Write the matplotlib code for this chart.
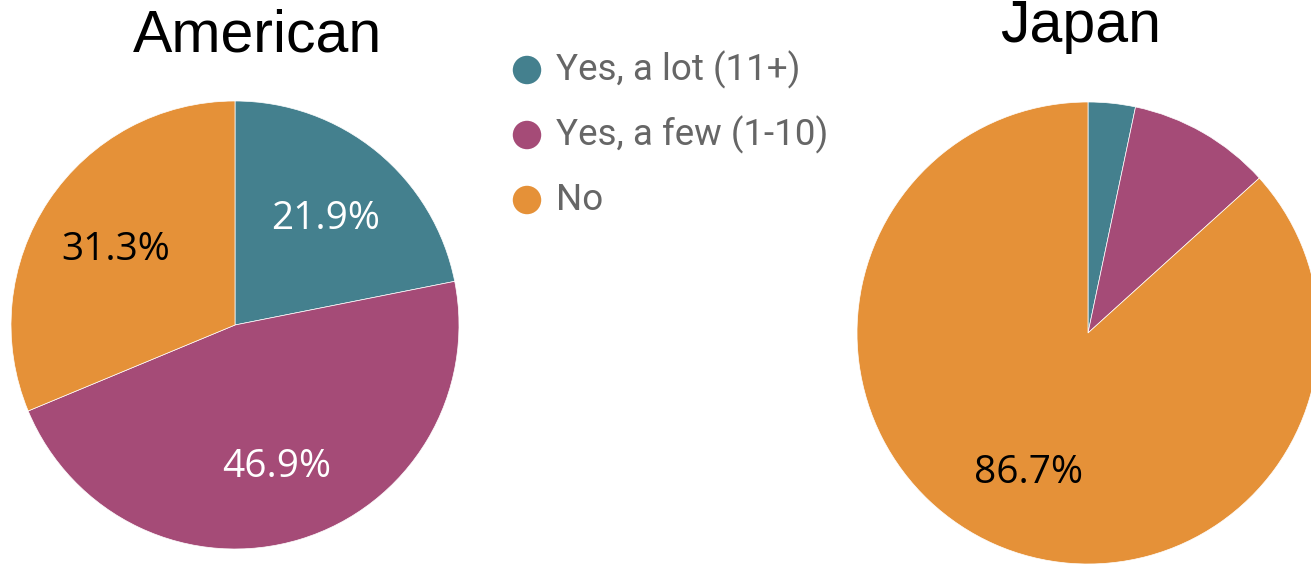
import matplotlib.pyplot as plt

# survey answers, share of respondents (%)
categories = ['Yes, a lot (11+)', 'Yes, a few (1-10)', 'No']
american = [21.9, 46.9, 31.3]
japan = [3.3, 10.0, 86.7]
colors = ['#44808e', '#a54b77', '#e59138']
label_colors = ['white', 'white', 'black']

W, H = 1311, 565

fig = plt.figure(figsize=(W / 100, H / 100), dpi=100)
ax = fig.add_axes([0, 0, 1, 1])


def draw_pie(values, center, radius, min_label=12):
    wedges, texts, autotexts = ax.pie(
        values, colors=colors, startangle=90, counterclock=False,
        center=center, radius=radius, pctdistance=0.64,
        autopct=lambda p: f'{p:.1f}%' if p >= min_label else '',
        wedgeprops=dict(linewidth=0.5, edgecolor='white'),
        textprops=dict(fontsize=28, family='Open Sans'),
        frame=True)
    for t, c in zip(autotexts, label_colors):
        t.set_color(c)
        t.set_va('center_baseline')
    return wedges


draw_pie(american, (235, H - 325), 224)
draw_pie(japan, (1088, H - 333), 231)

ax.set_xlim(0, W)
ax.set_ylim(0, H)
ax.set_aspect('equal')
ax.axis('off')

# titles
ax.text(258, H - 52, 'American', fontsize=42.5, family='Liberation Sans',
        ha='center', va='baseline', color='black')
ax.text(1081, H - 42, 'Japan', fontsize=42.5, family='Liberation Sans',
        ha='center', va='baseline', color='black')

# legend
for i, (name, col) in enumerate(zip(categories, colors)):
    y = H - (70 + i * 65)
    ax.scatter([527], [y], s=420, color=col, edgecolors='none')
    ax.text(556, y, name, fontsize=26.5, family='Roboto', color='#666666',
            ha='left', va='center')

fig.savefig('out.png', dpi=100)
